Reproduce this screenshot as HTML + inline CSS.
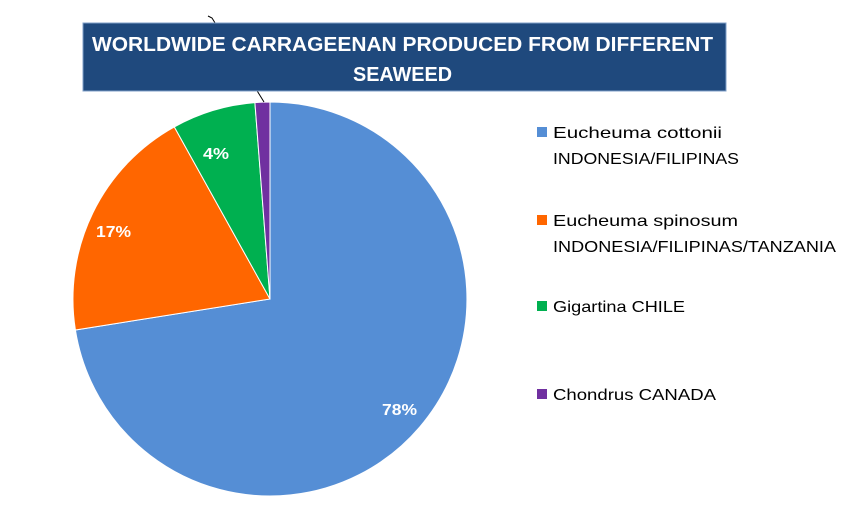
<!DOCTYPE html>
<html><head><style>
body{margin:0;background:#fff;}
svg text{font-family:"Liberation Sans",sans-serif;}
</style></head><body>
<svg width="844" height="514" xmlns="http://www.w3.org/2000/svg">
<rect width="844" height="514" fill="#fff"/>
<g stroke="#fff" stroke-width="1">
<path d="M270,299 L270,102 A197,197 0 1,1 75.4,330.0 Z" fill="#558ED5"/>
<path d="M270,299 L75.4,330.0 A197,197 0 0,1 174.3,126.9 Z" fill="#FF6600"/>
<path d="M270,299 L174.3,126.9 A197,197 0 0,1 254.9,102.6 Z" fill="#00B050"/>
<path d="M270,299 L254.9,102.6 A197,197 0 0,1 270,102 Z" fill="#7030A0"/>
</g>
<polyline points="208,16 212,18 264,102" fill="none" stroke="#000" stroke-width="1"/>
<rect x="83" y="23" width="643" height="68" fill="#1F497D" stroke="#7F9FC8" stroke-width="1"/>
<text x="92" y="51" font-size="20" font-weight="bold" fill="#fff" textLength="621" lengthAdjust="spacingAndGlyphs">WORLDWIDE CARRAGEENAN PRODUCED FROM DIFFERENT</text>
<text x="353" y="81" font-size="20" font-weight="bold" fill="#fff" textLength="99" lengthAdjust="spacingAndGlyphs">SEAWEED</text>
<g font-size="16" font-weight="bold" fill="#fff">
<text x="382" y="415" textLength="35" lengthAdjust="spacingAndGlyphs">78%</text>
<text x="96" y="237" textLength="35" lengthAdjust="spacingAndGlyphs">17%</text>
<text x="203" y="159" textLength="26" lengthAdjust="spacingAndGlyphs">4%</text>
</g>
<g font-size="16" fill="#000">
<rect x="537" y="127" width="10" height="10" fill="#558ED5"/>
<text x="553" y="138" textLength="169" lengthAdjust="spacingAndGlyphs">Eucheuma cottonii</text>
<text x="553" y="164" textLength="186" lengthAdjust="spacingAndGlyphs">INDONESIA/FILIPINAS</text>
<rect x="537" y="215" width="10" height="10" fill="#FF6600"/>
<text x="553" y="226" textLength="185" lengthAdjust="spacingAndGlyphs">Eucheuma spinosum</text>
<text x="553" y="252" textLength="283" lengthAdjust="spacingAndGlyphs">INDONESIA/FILIPINAS/TANZANIA</text>
<rect x="537" y="301" width="10" height="10" fill="#00B050"/>
<text x="553" y="312" textLength="132" lengthAdjust="spacingAndGlyphs">Gigartina CHILE</text>
<rect x="537" y="389" width="10" height="10" fill="#7030A0"/>
<text x="553" y="400" textLength="163" lengthAdjust="spacingAndGlyphs">Chondrus CANADA</text>
</g>
</svg>
</body></html>
